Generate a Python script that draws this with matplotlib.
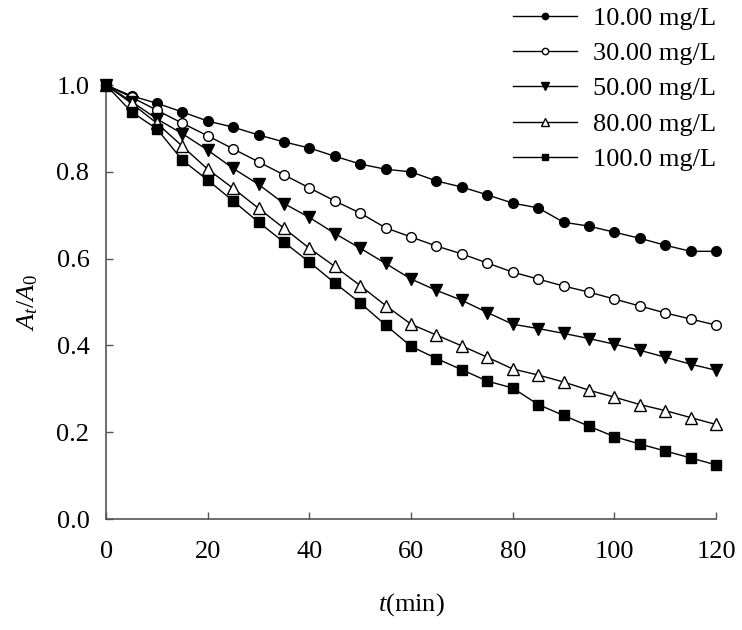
import numpy as np
from matplotlib import pyplot as plt

plt.rcParams['font.family'] = ['Liberation Serif', 'DejaVu Serif']
plt.rcParams['mathtext.fontset'] = 'custom'
plt.rcParams['mathtext.rm'] = 'Liberation Serif'
plt.rcParams['mathtext.it'] = 'Liberation Serif:italic'

# Sampling times (min)
t = [0, 5, 10, 15, 20, 25, 30, 35, 40, 45, 50, 55, 60,
     65, 70, 75, 80, 85, 90, 95, 100, 105, 110, 115, 120]

# A_t/A_0 for each initial concentration
c10 = [1.0, 0.975, 0.958, 0.938, 0.917, 0.903, 0.885, 0.869, 0.855, 0.836, 0.818, 0.806, 0.800,
       0.779, 0.765, 0.747, 0.728, 0.717, 0.684, 0.675, 0.661, 0.647, 0.631, 0.617, 0.617]
c30 = [1.0, 0.972, 0.942, 0.912, 0.883, 0.853, 0.823, 0.793, 0.763, 0.733, 0.705, 0.671, 0.650,
       0.629, 0.611, 0.590, 0.569, 0.553, 0.537, 0.523, 0.507, 0.491, 0.475, 0.461, 0.447]
c50 = [1.0, 0.962, 0.922, 0.888, 0.850, 0.808, 0.771, 0.727, 0.695, 0.658, 0.624, 0.589, 0.553,
       0.527, 0.504, 0.476, 0.449, 0.439, 0.428, 0.416, 0.403, 0.389, 0.373, 0.357, 0.343]
c80 = [1.0, 0.958, 0.912, 0.859, 0.806, 0.762, 0.716, 0.670, 0.624, 0.582, 0.538, 0.492, 0.449,
       0.424, 0.399, 0.373, 0.346, 0.332, 0.316, 0.297, 0.281, 0.264, 0.250, 0.234, 0.218]
c100 = [1.0, 0.938, 0.899, 0.827, 0.781, 0.733, 0.684, 0.638, 0.592, 0.544, 0.498, 0.447, 0.398,
        0.370, 0.344, 0.318, 0.302, 0.264, 0.239, 0.214, 0.190, 0.173, 0.157, 0.141, 0.125]

labels = ['10.00 mg/L', '30.00 mg/L', '50.00 mg/L', '80.00 mg/L', '100.0 mg/L']
series = [c10, c30, c50, c80, c100]
markers = ['o', 'o', 'v', '^', 's']
faces = ['black', 'white', 'black', 'white', 'black']
msizes = [7, 7, 8, 8, 7]

fig = plt.figure(figsize=(7.42, 6.3), dpi=100)
ax = fig.add_axes([0.143, 0.176, 0.822, 0.689])

for y, lab, m, fc, ms in zip(series, labels, markers, faces, msizes):
    ax.plot(t, y, color='black', lw=1.0, marker=m, markersize=ms,
            markerfacecolor=fc, markeredgecolor='black', markeredgewidth=1.0,
            label=lab, clip_on=False, zorder=3)

ax.set_xlim(0, 120)
ax.set_ylim(0, 1.0)
ax.set_xticks(np.arange(0, 121, 20))
ax.set_yticks(np.arange(0, 1.01, 0.2))
ax.set_yticklabels(['0.0', '0.2', '0.4', '0.6', '0.8', '1.0'])

for s in ['top', 'right']:
    ax.spines[s].set_visible(False)
for s in ['left', 'bottom']:
    ax.spines[s].set_color('#555555')
    ax.spines[s].set_linewidth(1.2)

ax.tick_params(direction='in', length=5, width=1.0, color='#555555', labelsize=19)
ax.tick_params(axis='x', pad=16)
ax.tick_params(axis='y', pad=12)
ax.set_xlabel('$t$(min)', size=19, labelpad=20)
ax.set_ylabel('$A_t/A_\\mathrm{0}$', size=19, labelpad=12)

fig.legend(loc='upper left', bbox_to_anchor=(0.692, 0.99), frameon=False,
           fontsize=19, markerscale=0.65, handlelength=2.4, handletextpad=0.6,
           labelspacing=0.45, borderpad=0.0, borderaxespad=0.0)

fig.savefig('out.png', dpi=100)
